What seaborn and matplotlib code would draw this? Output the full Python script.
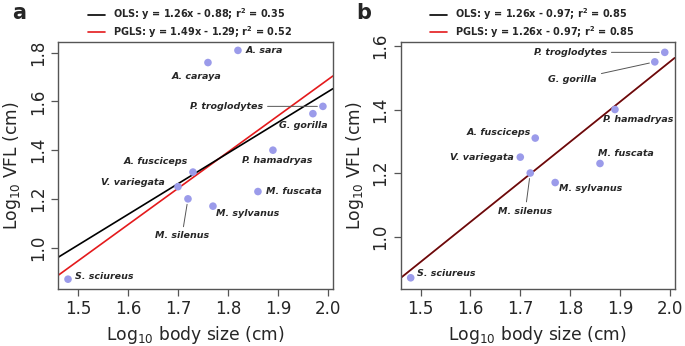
import matplotlib
matplotlib.use("Agg")
import matplotlib.pyplot as plt
from matplotlib.lines import Line2D
import seaborn as sns
import pandas as pd

# species data
species = ["A. sara", "A. caraya", "P. troglodytes", "G. gorilla", "P. hamadryas",
           "A. fusciceps", "V. variegata", "M. fuscata", "M. silenus", "M. sylvanus",
           "S. sciureus"]
log_body = [1.82, 1.76, 1.99, 1.97, 1.89, 1.73, 1.70, 1.86, 1.72, 1.77, 1.48]
log_vfl = [1.81, 1.76, 1.58, 1.55, 1.40, 1.31, 1.25, 1.23, 1.20, 1.17, 0.87]

# panel b leaves out the two Alouatta species
species_b = species[2:]

fits_a = {"OLS": (1.26, -0.88, 0.35), "PGLS": (1.49, -1.29, 0.52)}
fits_b = {"OLS": (1.26, -0.97, 0.85), "PGLS": (1.26, -0.97, 0.85)}

df = pd.DataFrame({"species": species, "body": log_body, "vfl": log_vfl})
df_b = df[df.species.isin(species_b)]

# label placement: offset in px, alignment, leader line
lab_a = {
    "A. sara": (8, 0, "left", False),
    "A. caraya": (-11, -14, "center", False),
    "P. troglodytes": (-60, 0, "right", True),
    "G. gorilla": (-10, -12, "center", False),
    "P. hamadryas": (4, -10, "center", False),
    "A. fusciceps": (-37, 11, "center", False),
    "V. variegata": (-13, 4, "right", False),
    "M. fuscata": (8, 0, "left", False),
    "M. silenus": (-6, -37, "center", True),
    "M. sylvanus": (35, -7, "center", False),
    "S. sciureus": (7, 3, "left", False),
}
lab_b = {
    "P. troglodytes": (-58, 0, "right", True),
    "G. gorilla": (-58, -18, "right", True),
    "P. hamadryas": (23, -10, "center", False),
    "A. fusciceps": (-36, 6, "center", False),
    "V. variegata": (-7, 0, "right", False),
    "M. fuscata": (26, 10, "center", False),
    "M. sylvanus": (35, -6, "center", False),
    "M. silenus": (-5, -38, "center", True),
    "S. sciureus": (6, 4, "left", False),
}

sns.set_style("ticks")
plt.rcParams["font.family"] = ["DejaVu Sans"]
plt.rcParams["mathtext.fontset"] = "dejavusans"

fig = plt.figure(figsize=(6.85, 3.46), dpi=100)
ax_a = fig.add_axes([0.0847, 0.165, 0.4013, 0.714])
ax_b = fig.add_axes([0.585, 0.165, 0.400, 0.714])

px = 0.72  # points per pixel at 100 dpi


def draw_panel(ax, data, fits, labels, ylim, yticks, legend_x, dark_line=False):
    sns.scatterplot(data=data, x="body", y="vfl", ax=ax, color="#9b9bea", s=30,
                    edgecolor="none", zorder=3)
    handles = []
    for name, col in [("OLS", "black"), ("PGLS", "#e41a1c")]:
        m, b, r2 = fits[name]
        handles.append(Line2D([], [], color=col, lw=1.2,
                              label=f"{name}: y = {m:.2f}x - {abs(b):.2f}; r$^{{\\mathbf{{2}}}}$ = {r2:.2f}"))
    # fit lines
    m, b, _ = fits["PGLS"]
    ax.axline((0, b), slope=m, color="#e41a1c", lw=1.2, zorder=2)
    m, b, _ = fits["OLS"]
    ax.axline((0, b), slope=m, color="black", lw=1.2, zorder=2,
              alpha=0.55 if dark_line else 1.0)

    for _, row in data.iterrows():
        dx, dy, ha, lead = labels[row.species]
        ax.annotate(row.species, (row.body, row.vfl), xytext=(dx * px, dy * px),
                    textcoords="offset points", ha=ha, va="center",
                    fontsize=6.8, fontweight="bold", fontstyle="italic",
                    arrowprops=dict(arrowstyle="-", color="#555555", lw=0.7,
                                    shrinkA=1, shrinkB=4) if lead else None)

    ax.set_xlim(1.46, 2.01)
    ax.set_ylim(*ylim)
    ax.set_xticks([1.5, 1.6, 1.7, 1.8, 1.9, 2.0])
    ax.set_xticklabels(["1.5", "1.6", "1.7", "1.8", "1.9", "2.0"])
    ax.set_yticks(yticks)
    ax.set_yticklabels([f"{t:.1f}" for t in yticks], rotation=90, va="center")
    ax.tick_params(labelsize=12, length=5, color="#555555", width=0.9, pad=3)
    for sp in ax.spines.values():
        sp.set_visible(True)
        sp.set_color("#555555")
        sp.set_linewidth(1.0)
    ax.set_xlabel("Log$_{10}$ body size (cm)", fontsize=12.3, labelpad=4)
    ax.set_ylabel("Log$_{10}$ VFL (cm)", fontsize=12.3, labelpad=4)
    leg = ax.legend(handles=handles, loc="lower center", bbox_to_anchor=(legend_x, 0.985),
                    frameon=False, fontsize=7, handlelength=1.8, handletextpad=0.8,
                    labelspacing=0.2, borderaxespad=0.2)
    for t in leg.get_texts():
        t.set_fontweight("bold")


draw_panel(ax_a, df, fits_a, lab_a, (0.83, 1.845), [1.0, 1.2, 1.4, 1.6, 1.8], 0.48)
draw_panel(ax_b, df_b, fits_b, lab_b, (0.835, 1.613), [1.0, 1.2, 1.4, 1.6], 0.48,
           dark_line=True)

fig.text(0.018, 0.99, "a", fontsize=15, fontweight="bold", va="top", ha="left")
fig.text(0.520, 0.99, "b", fontsize=15, fontweight="bold", va="top", ha="left")

fig.savefig("out.png", dpi=100)
